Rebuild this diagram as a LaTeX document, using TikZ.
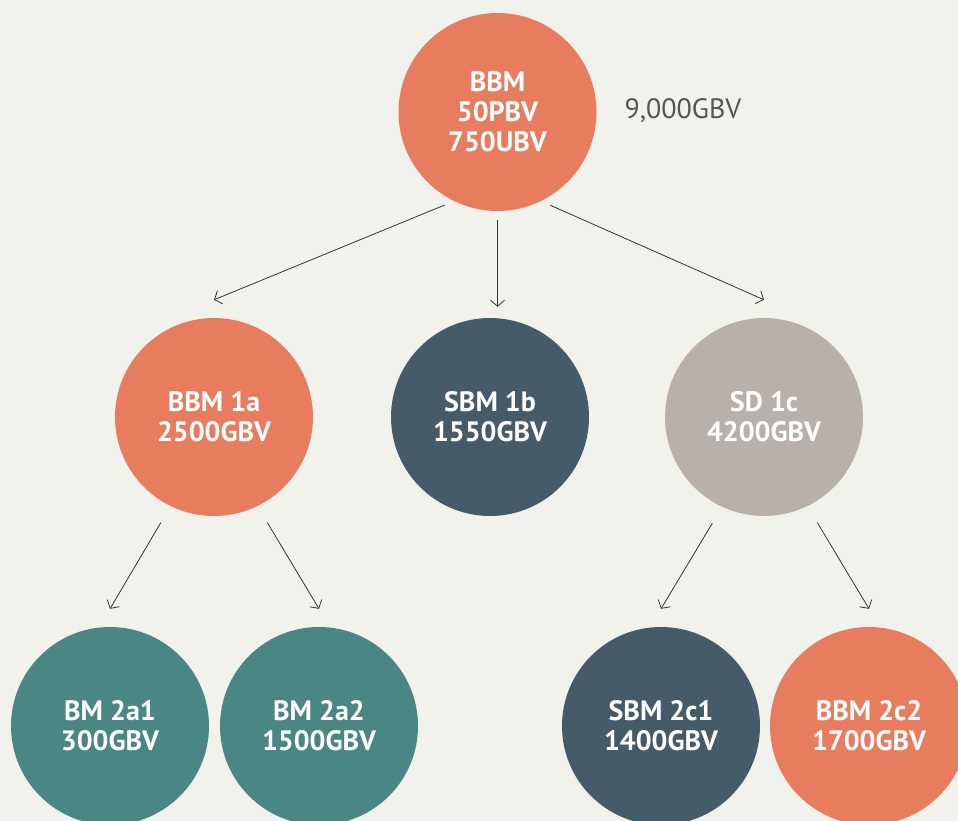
\documentclass[tikz,border=0pt]{standalone}
\usepackage{fontspec}
\setmainfont{PT Sans}
\usetikzlibrary{arrows.meta}
\definecolor{bbmorange}{HTML}{E87C5F}
\definecolor{sbmslate}{HTML}{465B6A}
\definecolor{sdstone}{HTML}{B8B0AA}
\definecolor{bmteal}{HTML}{4A8684}
\definecolor{bgcream}{HTML}{F2F2ED}
\definecolor{labelgray}{HTML}{555555}
\definecolor{arrowgray}{HTML}{333333}
\begin{document}
\begin{tikzpicture}[x=1pt,y=-1pt,
  bubble/.style={circle,minimum size=198pt,inner sep=0pt,text=white,align=center,font=\bfseries\fontsize{28}{30}\selectfont},
  arr/.style={draw=arrowgray,line width=0.8pt,-{Straight Barb[length=6pt,width=14pt]}}]
\fill[bgcream] (0,0) rectangle (958,821);
\useasboundingbox (0,0) rectangle (958,821);
\node[bubble,fill=bbmorange] (bbm) at (497.5,112) {BBM\\50PBV\\750UBV};
\node[text=labelgray,font=\fontsize{28}{30}\selectfont] (total) at (683,111) {9,000GBV};
\node[bubble,fill=bbmorange] (bbm1a) at (214,417) {BBM 1a\\2500GBV};
\node[bubble,fill=sbmslate] (sbm1b) at (490,417) {SBM 1b\\1550GBV};
\node[bubble,fill=sdstone] (sd1c) at (764,417) {SD 1c\\4200GBV};
\node[bubble,fill=bmteal] (bm2a1) at (110,726) {BM 2a1\\300GBV};
\node[bubble,fill=bmteal] (bm2a2) at (319,726) {BM 2a2\\1500GBV};
\node[bubble,fill=sbmslate] (sbm2c1) at (661,726) {SBM 2c1\\1400GBV};
\node[bubble,fill=bbmorange] (bbm2c2) at (869,726) {BBM 2c2\\1700GBV};
\draw[arr,shorten <=10pt] (bbm.244) -- ([yshift=18pt]bbm1a.north);
\draw[arr,shorten <=9pt,shorten >=11pt] (bbm.south) -- (bbm.south |- sbm1b.north);
\draw[arr,shorten <=10pt] (bbm.296) -- ([yshift=18pt]sd1c.north);
\draw[arr,shorten <=19pt] (bbm1a.244) -- ([yshift=18pt]bm2a1.north);
\draw[arr,shorten <=19pt] (bbm1a.296) -- ([yshift=18pt]bm2a2.north);
\draw[arr,shorten <=19pt] (sd1c.245) -- ([yshift=18pt]sbm2c1.north);
\draw[arr,shorten <=19pt] (sd1c.296) -- ([yshift=18pt]bbm2c2.north);
\end{tikzpicture}
\end{document}
